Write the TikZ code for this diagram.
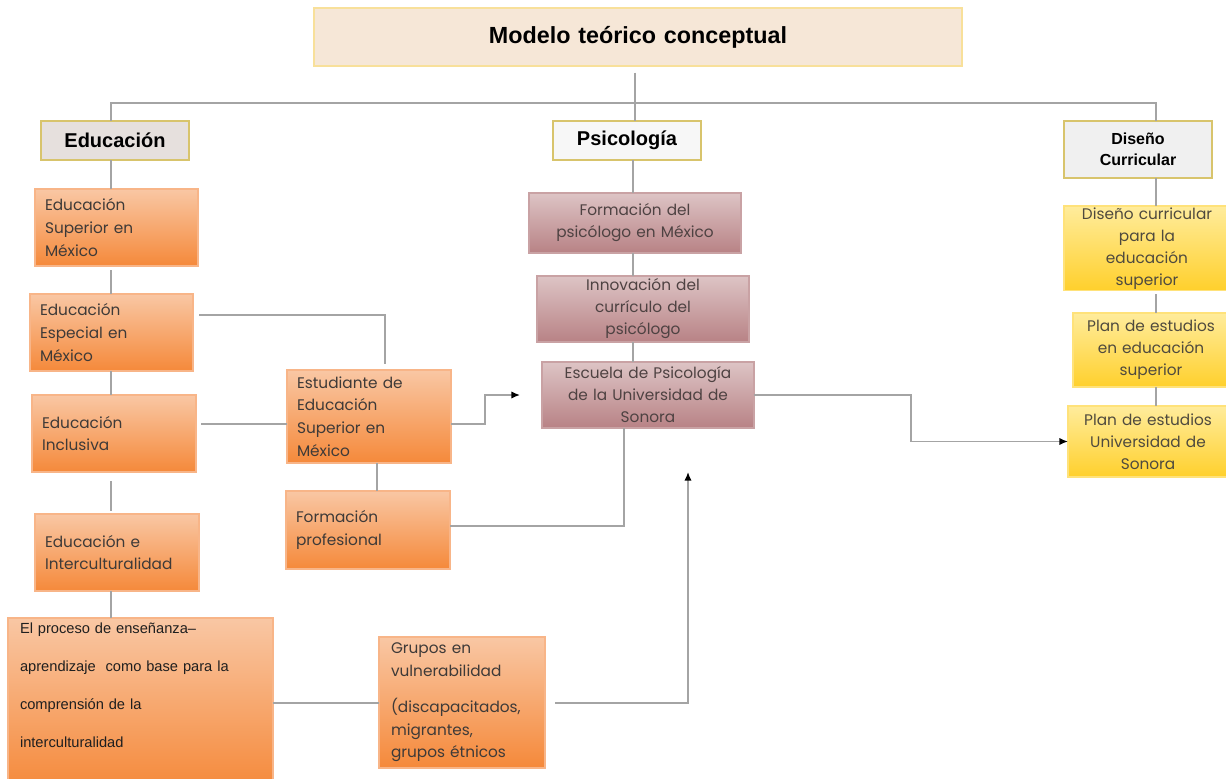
\documentclass[tikz,border=0pt]{standalone}
\usepackage{fontspec}
\setmainfont{Liberation Sans}
\newfontfamily\bodyfont{Poppins}
\usetikzlibrary{arrows.meta,calc}

\definecolor{linegray}{HTML}{A4A4A4}
\definecolor{titlefill}{HTML}{F6E7D7}
\definecolor{titleedge}{HTML}{F8E09A}
\definecolor{headedge}{HTML}{D8C46C}
\definecolor{edufill}{HTML}{E6E0DD}
\definecolor{orangetop}{HTML}{F9C7A4}
\definecolor{orangebot}{HTML}{F5893A}
\definecolor{orangeedge}{HTML}{F8B588}
\definecolor{mauvetop}{HTML}{DDC4C5}
\definecolor{mauvebot}{HTML}{B88285}
\definecolor{mauveedge}{HTML}{C9A2A4}
\definecolor{yellowtop}{HTML}{FFEC9C}
\definecolor{yellowbot}{HTML}{FFD02C}
\definecolor{yellowedge}{HTML}{FFE27A}
\definecolor{bodytext}{HTML}{3E3A38}
\definecolor{mauvetext}{HTML}{4E4242}
\definecolor{yellowtext}{HTML}{4F4A3E}

\tikzset{
  size/.code 2 args={%
    \pgfmathsetlengthmacro\boxw{#1*0.75pt}%
    \pgfmathsetlengthmacro\boxh{#2*0.75pt}%
    \pgfmathsetlengthmacro\boxtw{#1*0.75pt-2*\pgfkeysvalueof{/pgf/inner xsep}}%
    \edef\boxnext{\noexpand\tikzset{minimum width=\boxw,minimum height=\boxh,text width=\boxtw}}%
    \boxnext},
  box/.style={draw, line width=0.8pt, anchor=north west, outer sep=0pt, inner ysep=1pt},
  titlebox/.style={box, fill=titlefill, draw=titleedge, align=center, inner xsep=4pt,
    font=\fontsize{17.5}{20}\selectfont\bfseries},
  headbox/.style={box, draw=headedge, line width=1pt, align=center, inner xsep=3pt},
  orangebox/.style={box, draw=orangeedge, top color=orangetop, bottom color=orangebot,
    text=bodytext, align=left, inner xsep=7.5pt, font=\bodyfont\fontsize{11.5}{17}\selectfont},
  mauvebox/.style={box, draw=mauveedge, top color=mauvetop, bottom color=mauvebot,
    text=mauvetext, align=center, inner xsep=3pt, font=\bodyfont\fontsize{11.5}{16.5}\selectfont},
  yellowbox/.style={box, draw=yellowedge, top color=yellowtop, bottom color=yellowbot,
    text=yellowtext, align=center, inner xsep=2pt, font=\bodyfont\fontsize{11.5}{16.5}\selectfont},
  conn/.style={draw=linegray, line width=1.1pt},
  arr/.style={conn, -{Latex[length=6.5pt,width=5.5pt,color=black]}},
}

\begin{document}
\begin{tikzpicture}[x=0.75pt,y=-0.75pt]
\useasboundingbox (0,0) rectangle (1226,778);

% top of the tree
\node[titlebox, size={648}{58}] (title) at (314,8) {Modelo teórico conceptual};
\node[headbox, fill=edufill, font=\fontsize{15}{18}\selectfont\bfseries, size={148}{39}] (edu) at (41,121) {Educación};
\node[headbox, fill=black!3!white, font=\fontsize{15}{18}\selectfont\bfseries, size={148}{39}] (psi) at (553,121) {Psicología};
\node[headbox, fill=black!6!white, font=\fontsize{12}{16}\selectfont\bfseries, size={148}{57}] (dis) at (1064,121) {Diseño\\Curricular};

% education column
\node[orangebox, size={163}{77}] (esup) at (35,189) {Educación\\Superior en\\México};
\node[orangebox, size={163}{77}] (eesp) at (30,294) {Educación\\Especial en\\México};
\node[orangebox, size={164}{77}] (incl) at (32,395) {Educación\\Inclusiva};
\node[orangebox, size={164}{77}] (inter) at (35,514) {Educación e\\Interculturalidad};
\node[orangebox, inner xsep=9pt, text=black!88, font=\fontsize{11}{28.5}\selectfont, size={265}{172}] (proc) at (8,618)
  {El proceso de enseñanza–\\aprendizaje\ \ como base para la\\comprensión de la\\interculturalidad\\\mbox{}};

% middle column
\node[orangebox, size={164}{93}] (estu) at (287,370) {Estudiante de\\Educación\\Superior en\\México};
\node[orangebox, size={164}{78}] (fprof) at (286,491) {Formación\\profesional};
\node[orangebox, inner xsep=9pt, size={166}{131}] (grup) at (379,637)
  {Grupos en\\vulnerabilidad\\[10pt](discapacitados,\\migrantes,\\grupos étnicos};

% psychology column
\node[mauvebox, size={212}{60}] (fpsi) at (529,193) {Formación del\\psicólogo en México};
\node[mauvebox, size={212}{66}] (innov) at (537,276) {Innovación del\\currículo del\\psicólogo};
\node[mauvebox, size={212}{66}] (escu) at (542,362) {Escuela de Psicología\\de la Universidad de\\Sonora};

% curriculum design column
\node[yellowbox, size={166}{81}] (dcur) at (1064,206) {Diseño curricular\\para la\\educación\\superior};
\node[yellowbox, size={156}{74}] (pest) at (1073,313) {Plan de estudios\\en educación\\superior};
\node[yellowbox, size={160}{71}] (pun) at (1068,406) {Plan de estudios\\Universidad de\\Sonora};

% guide coordinates for the connectors
\coordinate (bar) at (0,103);
\coordinate (dx) at (1156,0);
\coordinate (lx) at (111,0);
\coordinate (px) at (633,0);
\coordinate (midrow) at (0,424);
\coordinate (profrow) at (0,526);
\coordinate (lowrow) at (0,703);
\coordinate (up) at (688,472);

% tree from the title
\draw[conn] ([xshift=-2.25pt,yshift=-5pt]title.south) -- ([xshift=-2.25pt]title.south |- psi.north);
\draw[conn] (lx |- edu.north) -- (lx |- bar) -- (dx |- bar) -- (dx |- dis.north);

% education chain
\draw[conn] (lx |- edu.south) -- (lx |- esup.north);
\draw[conn] ([yshift=-3pt]lx |- esup.south) -- (lx |- eesp.north);
\draw[conn] (lx |- eesp.south) -- (lx |- incl.north);
\draw[conn] ([yshift=-7pt]lx |- incl.south) -- ([yshift=2pt]lx |- inter.north);
\draw[conn] (lx |- inter.south) -- (lx |- proc.north);

% links towards the student box
\draw[conn] ([xshift=4.5pt,yshift=13pt]eesp.east) -| ([xshift=12pt,yshift=4.5pt]estu.north);
\draw[conn] ([xshift=3.75pt]incl.east |- midrow) -- (estu.west |- midrow);
\draw[conn] ([xshift=6pt]estu.south) -- ([xshift=6pt]estu.south |- fprof.north);
\draw[arr] (estu.east |- midrow) -- ++(34,0) |- ([xshift=-16.5pt]escu.west);
\draw[conn] (fprof.east |- profrow) -| ([xshift=-18pt]escu.south);

% lower links
\draw[conn] (proc.east |- lowrow) -- (grup.west |- lowrow);
\draw[arr] ([xshift=7.5pt]grup.east |- lowrow) -| (up);

% psychology chain
\draw[conn] (px |- psi.south) -- (px |- fpsi.north);
\draw[conn] (px |- fpsi.south) -- (px |- innov.north);
\draw[conn] (px |- innov.south) -- (px |- escu.north);

% curriculum design chain
\draw[conn] (dx |- dis.south) -- (dx |- dcur.north);
\draw[conn] ([yshift=-3pt]dx |- dcur.south) -- (dx |- pest.north);
\draw[conn] (dx |- pest.south) -- (dx |- pun.north);

% school to study plan
\draw[arr] (escu.east) -- ++(157,0) |- (pun.west);
\end{tikzpicture}
\end{document}
